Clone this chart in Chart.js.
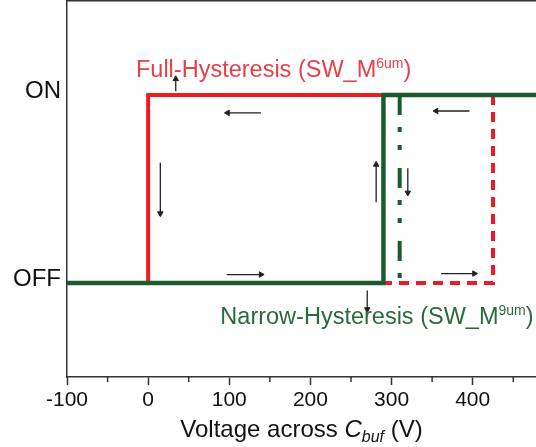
<!DOCTYPE html>
<html>
<head>
<meta charset="utf-8">
<script src="https://cdn.jsdelivr.net/npm/chart.js@4.4.0/dist/chart.umd.min.js"></script>
<style>
  html, body { margin: 0; padding: 0; background: #fff; }
  #wrap { width: 536px; height: 447px; position: relative; }
</style>
</head>
<body>
<div id="wrap"><canvas id="chartCanvas"></canvas></div>
<script>
// switch state: 0 = OFF, 1 = ON
const stateLabels = ['OFF', 'ON'];
const stateTicks = [0, 1];
const xTicks = [-100, -50, 0, 50, 100, 150, 200, 250, 300, 350, 400, 450];

// full hysteresis (SW_M 6um) - red
const fullSolidV = [-100, 290, null, 425, 0, 0];
const fullSolidS = [0, 0, null, 1, 1, 0];
const fullDashV = [425, 425, 290];
const fullDashS = [1, 0, 0];

// narrow hysteresis (SW_M 9um) - green
const narrowSolidV = [-100, 290, 290, 478];
const narrowSolidS = [0, 0, 1, 1];
const narrowDashV = [310, 310];
const narrowDashS = [1, 0];

// direction arrows: tail -> tip
const arrowFromV = [139, 396, 97, 361, 15, 281, 320, 34, 270];
const arrowFromS = [0.905, 0.915, 0.045, 0.05, 0.64, 0.43, 0.61, 1.02, -0.04];
const arrowToV = [98, 355, 139, 402, 15, 281, 320, 34, 270];
const arrowToS = [0.905, 0.915, 0.045, 0.05, 0.37, 0.63, 0.48, 1.085, -0.14];

const RED = '#ec1c24';
const GREEN = '#1e5a2f';

function pts(xs, ys) {
  return xs.map((v, i) => (v === null ? { x: null, y: null } : { x: v, y: ys[i] }));
}

const datasets = [
  { data: pts(narrowSolidV, narrowSolidS), borderColor: GREEN, borderWidth: 4.5, order: 0 },
  { data: pts(narrowDashV, narrowDashS), borderColor: GREEN, borderWidth: 4, borderDash: [20, 12, 5, 13, 5, 18], order: 0 },
  { data: pts(fullSolidV, fullSolidS), borderColor: RED, borderWidth: 4, order: 1 },
  { data: pts(fullDashV, fullDashS), borderColor: RED, borderWidth: 4, borderDash: [10, 7], order: 1 }
];

arrowFromV.forEach((v, i) => {
  const dx = arrowToV[i] - v;
  const dy = arrowToS[i] - arrowFromS[i];
  const rot = dx !== 0 ? (dx > 0 ? 90 : 270) : (dy > 0 ? 0 : 180);
  datasets.push({
    data: [{ x: v, y: arrowFromS[i] }, { x: arrowToV[i], y: arrowToS[i] }],
    borderColor: '#222',
    borderWidth: 1.3,
    pointRadius: [0, 3.2],
    pointStyle: 'triangle',
    rotation: [0, rot],
    pointBackgroundColor: '#222',
    pointBorderColor: '#222',
    pointBorderWidth: 1,
    order: 0
  });
});

datasets.forEach(d => {
  d.showLine = true;
  d.fill = false;
  d.spanGaps = false;
  if (d.pointRadius === undefined) d.pointRadius = 0;
  d.borderCapStyle = 'butt';
  d.borderJoinStyle = 'miter';
});

function drawParts(ctx, parts, x, y, align) {
  let w = 0;
  parts.forEach(p => { ctx.font = p.font; w += ctx.measureText(p.text).width; });
  let cx = align === 'center' ? x - w / 2 : x;
  parts.forEach(p => {
    ctx.font = p.font;
    ctx.fillStyle = p.color;
    ctx.fillText(p.text, cx, y + (p.dy || 0));
    cx += ctx.measureText(p.text).width;
  });
}

function noPad(a) {
  a.paddingTop = 0;
  a.paddingBottom = 0;
  a.paddingLeft = 0;
  a.paddingRight = 0;
}

const textPlugin = {
  id: 'textPlugin',
  afterDraw(chart) {
    const { ctx, chartArea, scales: { x, y } } = chart;
    const F = '"Liberation Sans", Arial, sans-serif';
    ctx.save();
    ctx.textAlign = 'left';
    ctx.textBaseline = 'alphabetic';
    const red = '#e7404a';
    drawParts(ctx, [
      { text: 'Full-Hysteresis (SW_M', font: '23.5px ' + F, color: red },
      { text: '6um', font: '14px ' + F, color: red, dy: -9 },
      { text: ')', font: '23.5px ' + F, color: red }
    ], x.getPixelForValue(-15), y.getPixelForValue(1.096), 'left');
    const green = '#2a6a3c';
    drawParts(ctx, [
      { text: 'Narrow-Hysteresis (SW_M', font: '23.5px ' + F, color: green },
      { text: '9um', font: '14px ' + F, color: green, dy: -9 },
      { text: ')', font: '23.5px ' + F, color: green }
    ], x.getPixelForValue(89), y.getPixelForValue(-0.22), 'left');
    // axis title
    const dark = '#111';
    drawParts(ctx, [
      { text: 'Voltage across ', font: '24px ' + F, color: dark },
      { text: 'C', font: 'italic 24px ' + F, color: dark },
      { text: 'buf', font: 'italic 16px ' + F, color: dark, dy: 5 },
      { text: ' (V)', font: '24px ' + F, color: dark }
    ], (chartArea.left + chartArea.right) / 2, 437, 'center');
    // minor ticks on the x axis
    ctx.strokeStyle = '#333';
    ctx.lineWidth = 1.5;
    x.ticks.forEach(t => {
      if (t.value % 100 !== 0) {
        const px = x.getPixelForValue(t.value);
        ctx.beginPath();
        ctx.moveTo(px, chartArea.bottom);
        ctx.lineTo(px, chartArea.bottom + 5);
        ctx.stroke();
      }
    });
    ctx.restore();
  }
};

const chartCanvas = document.getElementById('chartCanvas');
new Chart(chartCanvas, {
  type: 'scatter',
  data: { datasets },
  options: {
    responsive: true,
    maintainAspectRatio: false,
    animation: false,
    layout: { autoPadding: false, padding: 0 },
    plugins: { legend: { display: false }, tooltip: { enabled: false } },
    scales: {
      x: {
        type: 'linear',
        min: -100,
        max: 478,
        afterBuildTicks: a => { a.ticks = xTicks.map(v => ({ value: v })); },
        afterFit: a => { a.height = 70; noPad(a); },
        ticks: {
          autoSkip: false,
          maxRotation: 0,
          padding: 3,
          color: '#111',
          font: { family: '"Liberation Sans", Arial, sans-serif', size: 21 },
          callback: v => (v % 100 === 0 ? String(v) : '')
        },
        grid: {
          drawOnChartArea: false,
          tickLength: 8,
          tickWidth: 1.5,
          tickColor: c => (c.tick && c.tick.value % 100 === 0 ? '#333' : 'rgba(0,0,0,0)')
        },
        border: { display: true, color: '#333', width: 1.5 }
      },
      x2: {
        type: 'linear',
        position: 'top',
        min: -100,
        max: 478,
        afterFit: a => { a.height = 1; noPad(a); },
        ticks: { display: false },
        grid: { display: false, drawTicks: false },
        border: { display: true, color: '#333', width: 1.5 }
      },
      y: {
        type: 'linear',
        min: -0.5,
        max: 1.5,
        afterBuildTicks: a => { a.ticks = stateTicks.map(v => ({ value: v })); },
        afterFit: a => { a.width = 67; noPad(a); },
        ticks: {
          padding: 6,
          labelOffset: -4,
          color: '#111',
          font: { family: '"Liberation Sans", Arial, sans-serif', size: 24 },
          callback: v => stateLabels[stateTicks.indexOf(v)]
        },
        grid: { display: false, drawTicks: false },
        border: { display: true, color: '#333', width: 1.5 }
      }
    }
  },
  plugins: [textPlugin]
});
</script>
</body>
</html>
